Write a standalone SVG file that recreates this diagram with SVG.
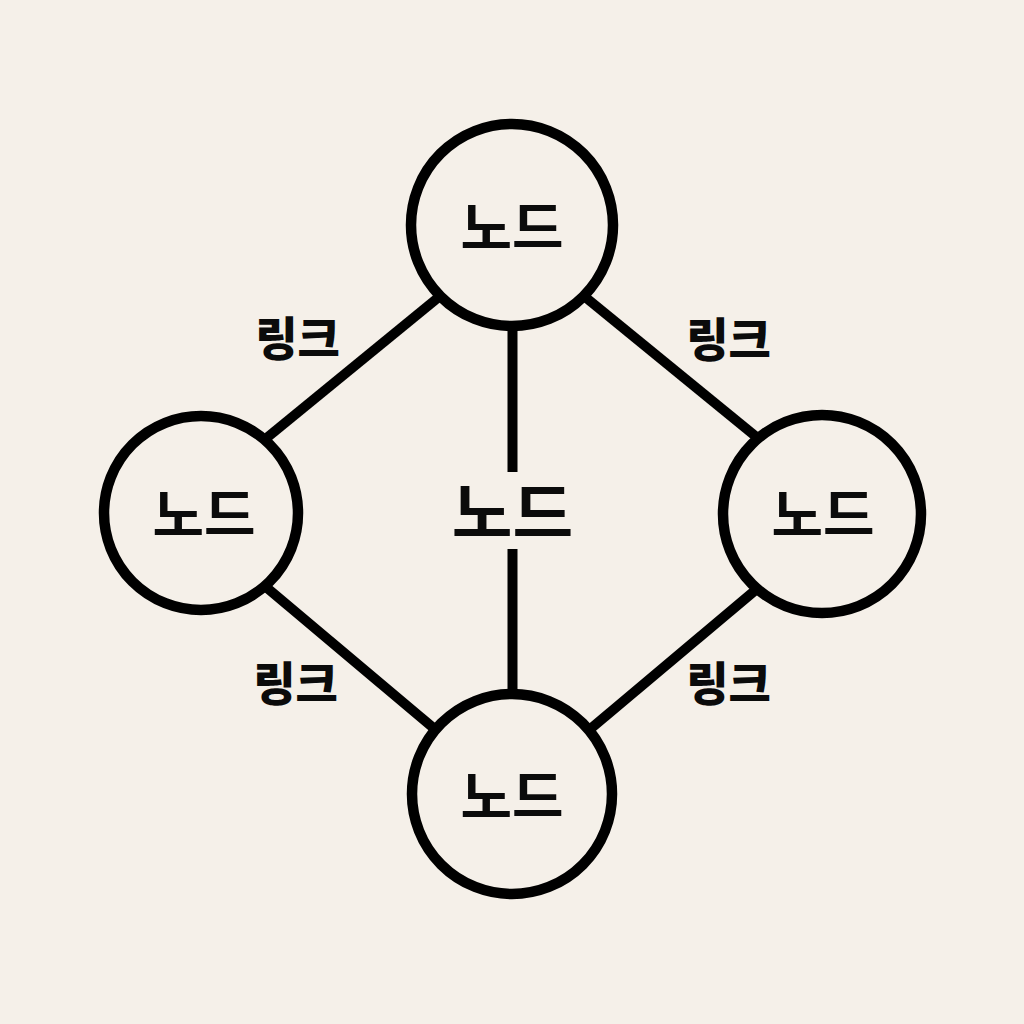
<svg xmlns="http://www.w3.org/2000/svg" width="1024" height="1024" viewBox="0 0 1024 1024">
<style>
.node circle{fill:#F5F0E9;stroke:#000;stroke-width:10.5}
.lbl{font-family:"Noto Sans CJK KR","Noto Sans",sans-serif;font-weight:700;fill:#0b0b0b;text-anchor:middle;dominant-baseline:central}
.n{font-size:56px}
.c{font-size:66px}
.l{font-size:46px;font-weight:900}
#connectors line{stroke:#000;stroke-width:10;stroke-linecap:butt}
</style>
<rect width="1024" height="1024" fill="#F5F0E9"/>
<g id="connectors">
<line x1="445" y1="292" x2="258" y2="445"/>
<line x1="579" y1="292" x2="765" y2="444"/>
<line x1="260" y1="582" x2="443" y2="736"/>
<line x1="765" y1="582" x2="582" y2="736"/>
<line x1="512.5" y1="320" x2="512.5" y2="472"/>
<line x1="512.5" y1="549" x2="512.5" y2="700"/>
</g>
<g id="node-top" class="node"><circle cx="512" cy="225" r="101"/><text class="lbl n" x="512" y="223">노드</text></g>
<g id="node-left" class="node"><circle cx="201" cy="513" r="97"/><text class="lbl n" x="204" y="510">노드</text></g>
<g id="node-right" class="node"><circle cx="822" cy="514" r="99"/><text class="lbl n" x="823" y="510">노드</text></g>
<g id="node-bottom" class="node"><circle cx="512" cy="794" r="100"/><text class="lbl n" x="512" y="792">노드</text></g>
<g id="node-center" class="node"><text class="lbl c" x="512.5" y="508">노드</text></g>
<g id="labels">
<text class="lbl l" x="297.5" y="335">링크</text>
<text class="lbl l" x="728.5" y="335.5">링크</text>
<text class="lbl l" x="295.5" y="680">링크</text>
<text class="lbl l" x="728.5" y="680">링크</text>
</g>
</svg>
